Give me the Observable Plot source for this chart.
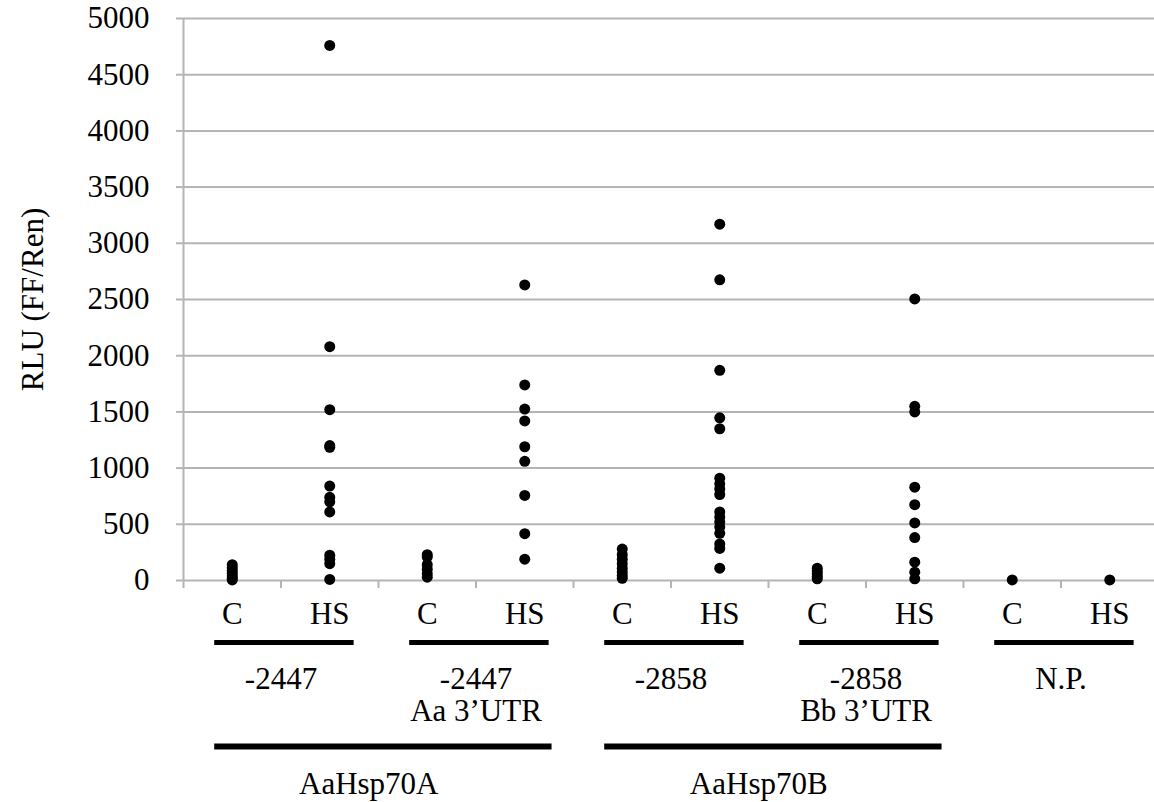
<!DOCTYPE html>
<html><head><meta charset="utf-8">
<script src="https://cdn.jsdelivr.net/npm/d3@7"></script>
<script src="https://cdn.jsdelivr.net/npm/@observablehq/plot@0.6"></script>
<style>body{margin:0;background:#fff}</style>
</head><body><div id="chart"></div>
<script>
// ---- data ----
const constructs = ["-2447", "-2447\nAa 3\u2019UTR", "-2858", "-2858\nBb 3\u2019UTR", "N.P."];
const conditions = ["C", "HS"];
const genes = ["AaHsp70A", "AaHsp70B"];
const yTicks = [0, 500, 1000, 1500, 2000, 2500, 3000, 3500, 4000, 4500, 5000];
const yLabel = "RLU (FF/Ren)";

const c2447    = [140, 115, 90, 65, 40, 20, 5];
const hs2447   = [4760, 2080, 1520, 1200, 1185, 840, 740, 700, 610, 225, 190, 150, 10];
const c2447Aa  = [230, 210, 140, 100, 60, 30];
const hs2447Aa = [2630, 1740, 1525, 1420, 1190, 1060, 757, 417, 190];
const c2858    = [280, 230, 190, 150, 110, 75, 45, 20];
const hs2858   = [3170, 2675, 1870, 1447, 1350, 910, 860, 815, 765, 610, 565, 520, 475, 420, 325, 285, 110];
const c2858Bb  = [110, 85, 60, 35, 15];
const hs2858Bb = [2505, 1550, 1500, 830, 675, 512, 382, 163, 74, 15];
const cNP      = [5];
const hsNP     = [5];

// ---- derived tables ----
const series = [c2447, hs2447, c2447Aa, hs2447Aa, c2858, hs2858, c2858Bb, hs2858Bb, cNP, hsNP];
const points = series.flatMap((vals, i) => vals.map(v => ({i, v})));
const slots = series.map((_, i) => i);
const bounds = series.map((_, i) => i - 0.5).concat([series.length - 0.5]);
const constructIdx = constructs.map((_, k) => k);
const geneIdx = genes.map((_, g) => g);

const font = "Liberation Serif, Times New Roman, serif";
const gray = "#b4b4b4";

const chart = Plot.plot({
  width: 1154,
  height: 802,
  marginLeft: 183, marginRight: 0, marginTop: 18, marginBottom: 222,
  style: {fontFamily: font, background: "white", color: "black", overflow: "hidden"},
  x: {type: "linear", domain: [-0.5, series.length - 0.5], range: [183, 1158], axis: null},
  y: {domain: [0, 5000], range: [580, 18], axis: null},
  marks: [
    Plot.gridY(yTicks, {stroke: gray, strokeOpacity: 1, strokeWidth: 2}),
    Plot.ruleX([-0.5], {stroke: gray, strokeWidth: 2}),
    Plot.axisY(yTicks, {tickSize: 7, tickPadding: 27, fontSize: 31, tickFormat: d => String(d), stroke: gray, strokeWidth: 2, label: null, fill: "black"}),
    Plot.axisX(bounds, {tickSize: 8, tickFormat: () => "", stroke: gray, strokeWidth: 2, label: null}),
    Plot.dot(points, {x: "i", y: "v", r: 5.5, fill: "black", stroke: null}),
    Plot.text(slots, {x: d => d, text: d => conditions[d % 2], frameAnchor: "bottom", dy: 43, fontSize: 31, fill: "black"}),
    Plot.ruleY(constructIdx, {y: () => 0, x1: k => 2 * k - 0.18, x2: k => 2 * k + 1.25, dy: 62, stroke: "black", strokeWidth: 5}),
    Plot.text(constructs, {x: (d, k) => 2 * k + 0.5, text: d => d, frameAnchor: "bottom", lineAnchor: "top", dy: 86, lineHeight: 1.03, fontSize: 31, fill: "black"}),
    Plot.ruleY(geneIdx, {y: () => 0, x1: g => 4 * g - 0.18, x2: g => 4 * g + 3.28, dy: 166, stroke: "black", strokeWidth: 6}),
    Plot.text(genes, {x: (d, g) => 4 * g + 1.4, text: d => d, frameAnchor: "bottom", dy: 213, fontSize: 31, fill: "black"}),
    Plot.text([yLabel], {frameAnchor: "left", textAnchor: "middle", rotate: -90, dx: -150, fontSize: 31, fill: "black"})
  ]
});
document.getElementById("chart").appendChild(chart);
</script>
</body></html>
